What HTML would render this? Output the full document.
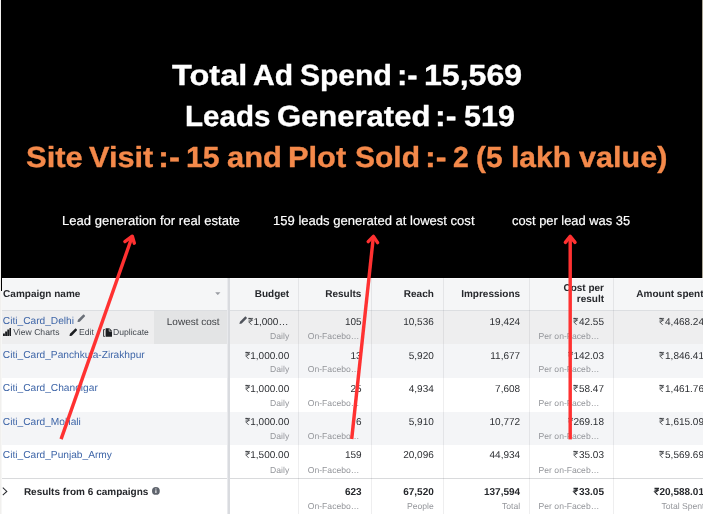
<!DOCTYPE html>
<html><head><meta charset="utf-8">
<style>
html,body{margin:0;padding:0}
body{width:703px;height:514px;position:relative;overflow:hidden;background:#fff;font-family:"Liberation Sans",sans-serif;text-rendering:geometricPrecision}
.a{position:absolute;white-space:nowrap;transform-origin:0 0;line-height:1}
.rp{display:inline-block;width:0.556em;height:0.72em;vertical-align:baseline;overflow:visible;margin-right:0.02em}
.rp path{fill:none;stroke:currentColor;stroke-width:7.6}
.rp.b path{stroke-width:11.5}
</style></head><body>
<div id="L" style="position:absolute;left:0;top:0;width:703px;height:514px;will-change:transform">
<div class="a" style="left:0px;top:0px;width:703px;height:514px;background:#fff;"></div>
<div class="a" style="left:2px;top:278px;width:701px;height:33px;background:#f5f6f7;"></div>
<div class="a" style="left:2px;top:277.6px;width:701px;height:1.2px;background:#fcfcfd;"></div>
<div class="a" style="left:2px;top:310.5px;width:701px;height:33.5px;background:#eeeeef;"></div>
<div class="a" style="left:153.6px;top:310.5px;width:73.4px;height:33.2px;background:#e3e4e5;"></div>
<div class="a" style="left:2px;top:344px;width:701px;height:33.5px;background:#f4f5f7;"></div>
<div class="a" style="left:2px;top:377.5px;width:701px;height:34.1px;background:#ffffff;"></div>
<div class="a" style="left:2px;top:411.6px;width:701px;height:33.1px;background:#f4f5f7;"></div>
<div class="a" style="left:2px;top:444.7px;width:701px;height:33.8px;background:#ffffff;"></div>
<div class="a" style="left:2px;top:478.5px;width:701px;height:36px;background:#ffffff;"></div>
<div class="a" style="left:2px;top:309.7px;width:701px;height:1px;background:#dcdee1;"></div>
<div class="a" style="left:2px;top:477.8px;width:701px;height:1.6px;background:#d9dadc;"></div>
<div class="a" style="left:298.2px;top:278px;width:0.9px;height:236px;background:rgba(0,0,20,0.065);"></div>
<div class="a" style="left:370.8px;top:278px;width:0.9px;height:236px;background:rgba(0,0,20,0.065);"></div>
<div class="a" style="left:443.2px;top:278px;width:0.9px;height:236px;background:rgba(0,0,20,0.065);"></div>
<div class="a" style="left:529.3px;top:278px;width:0.9px;height:236px;background:rgba(0,0,20,0.065);"></div>
<div class="a" style="left:613.2px;top:278px;width:0.9px;height:236px;background:rgba(0,0,20,0.065);"></div>
<div class="a" style="left:226.6px;top:278px;width:1.2px;height:236px;background:#e9eaed;"></div>
<div class="a" style="left:227.7px;top:278px;width:2.2px;height:236px;background:#d9dbdf;"></div>
<div class="a" style="left:1px;top:0px;width:701px;height:277.6px;background:#000;"></div>
<div class="a" style="left:1px;top:277px;width:1.3px;height:14.4px;background:#000;"></div>
<div class="a" style="left:702px;top:0px;width:1px;height:277.6px;background:#aaa596;"></div>
<div class="a" style="left:0px;top:0px;width:1px;height:514px;background:#f1f0ee;"></div>
<div class="a" style="left:1px;top:291.4px;width:1.2px;height:223px;background:#f7f7f6;"></div>
<div class="a" style="top:62.00px;font-size:29px;color:#fff;font-weight:bold;left:171.75px;transform:scaleX(1.1215);-webkit-text-stroke:0.35px currentColor;">Total</div>
<div class="a" style="top:62.00px;font-size:29px;color:#fff;font-weight:bold;left:252.71px;transform:scaleX(1.0373);-webkit-text-stroke:0.35px currentColor;">Ad</div>
<div class="a" style="top:62.00px;font-size:29px;color:#fff;font-weight:bold;left:299.83px;transform:scaleX(1.0352);-webkit-text-stroke:0.35px currentColor;">Spend</div>
<div class="a" style="top:62.00px;font-size:29px;color:#fff;font-weight:bold;left:397.41px;transform:scaleX(1.0643);-webkit-text-stroke:0.35px currentColor;">:-</div>
<div class="a" style="top:62.00px;font-size:29px;color:#fff;font-weight:bold;left:423.99px;transform:scaleX(1.1069);-webkit-text-stroke:0.35px currentColor;">15,569</div>
<div class="a" style="top:103.00px;font-size:29px;color:#fff;font-weight:bold;left:185.23px;transform:scaleX(1.0187);-webkit-text-stroke:0.35px currentColor;">Leads</div>
<div class="a" style="top:103.00px;font-size:29px;color:#fff;font-weight:bold;left:277.43px;transform:scaleX(1.069);-webkit-text-stroke:0.35px currentColor;">Generated</div>
<div class="a" style="top:103.00px;font-size:29px;color:#fff;font-weight:bold;left:435.01px;transform:scaleX(1.1076);-webkit-text-stroke:0.35px currentColor;">:-</div>
<div class="a" style="top:103.00px;font-size:29px;color:#fff;font-weight:bold;left:463.95px;transform:scaleX(1.0519);-webkit-text-stroke:0.35px currentColor;">519</div>
<div class="a" style="top:144.00px;font-size:29px;color:#f4894a;font-weight:bold;left:25.50px;transform:scaleX(1.0678);-webkit-text-stroke:0.35px currentColor;">Site</div>
<div class="a" style="top:144.00px;font-size:29px;color:#f4894a;font-weight:bold;left:88.93px;transform:scaleX(1.0586);-webkit-text-stroke:0.35px currentColor;">Visit</div>
<div class="a" style="top:144.00px;font-size:29px;color:#f4894a;font-weight:bold;left:158.03px;transform:scaleX(1.1386);-webkit-text-stroke:0.35px currentColor;">:-</div>
<div class="a" style="top:144.00px;font-size:29px;color:#f4894a;font-weight:bold;left:185.89px;transform:scaleX(1.0397);-webkit-text-stroke:0.35px currentColor;">15</div>
<div class="a" style="top:144.00px;font-size:29px;color:#f4894a;font-weight:bold;left:226.79px;transform:scaleX(1.0647);-webkit-text-stroke:0.35px currentColor;">and</div>
<div class="a" style="top:144.00px;font-size:29px;color:#f4894a;font-weight:bold;left:288.36px;transform:scaleX(1.0626);-webkit-text-stroke:0.35px currentColor;">Plot</div>
<div class="a" style="top:144.00px;font-size:29px;color:#f4894a;font-weight:bold;left:355.03px;transform:scaleX(1.0338);-webkit-text-stroke:0.35px currentColor;">Sold</div>
<div class="a" style="top:144.00px;font-size:29px;color:#f4894a;font-weight:bold;left:424.69px;transform:scaleX(1.1138);-webkit-text-stroke:0.35px currentColor;">:-</div>
<div class="a" style="top:144.00px;font-size:29px;color:#f4894a;font-weight:bold;left:453.05px;transform:scaleX(0.9776);-webkit-text-stroke:0.35px currentColor;">2</div>
<div class="a" style="top:144.00px;font-size:29px;color:#f4894a;font-weight:bold;left:476.33px;transform:scaleX(1.0313);-webkit-text-stroke:0.35px currentColor;">(5</div>
<div class="a" style="top:144.00px;font-size:29px;color:#f4894a;font-weight:bold;left:511.13px;transform:scaleX(1.034);-webkit-text-stroke:0.35px currentColor;">lakh</div>
<div class="a" style="top:144.00px;font-size:29px;color:#f4894a;font-weight:bold;left:579.21px;transform:scaleX(1.0542);-webkit-text-stroke:0.35px currentColor;">value)</div>
<div class="a" id="s1" style="top:214.00px;font-size:13px;color:#fff;left:61.50px;transform:scaleX(1.004);-webkit-text-stroke:0.18px currentColor;">Lead generation for real estate</div>
<div class="a" id="s2" style="top:214.00px;font-size:13px;color:#fff;left:272.80px;transform:scaleX(1.003);-webkit-text-stroke:0.18px currentColor;">159 leads generated at lowest cost</div>
<div class="a" id="s3" style="top:214.00px;font-size:13px;color:#fff;left:511.60px;transform:scaleX(0.99);-webkit-text-stroke:0.18px currentColor;">cost per lead was 35</div>
<div class="a" id="th0" style="top:290.00px;font-size:10px;color:#26282c;font-weight:bold;left:3.10px;">Campaign name</div>
<div class="a" id="th1" style="top:290.00px;font-size:10px;color:#26282c;font-weight:bold;right:413.80px;">Budget</div>
<div class="a" id="th2" style="top:290.00px;font-size:10px;color:#26282c;font-weight:bold;right:341.70px;">Results</div>
<div class="a" id="th3" style="top:290.00px;font-size:10px;color:#26282c;font-weight:bold;right:269.20px;">Reach</div>
<div class="a" id="th4" style="top:290.00px;font-size:10px;color:#26282c;font-weight:bold;right:182.90px;">Impressions</div>
<div class="a" id="th5a" style="top:284.00px;font-size:10px;color:#26282c;font-weight:bold;right:99.00px;">Cost per</div>
<div class="a" id="th5b" style="top:295.00px;font-size:10px;color:#26282c;font-weight:bold;right:99.00px;">result</div>
<div class="a" id="th6" style="top:290.00px;font-size:10px;color:#26282c;font-weight:bold;left:636.30px;">Amount spent</div>
<svg class="a" style="left:215.4px;top:292.3px" width="5.6" height="3.2" viewBox="0 0 7 4"><path d="M0.2 0.2H6.8L3.5 3.9Z" fill="#9a9da3"/></svg>
<div class="a" id="n0" style="top:317.00px;font-size:10.18px;color:#3f66a8;left:2.80px;">Citi_Card_Delhi</div>
<div class="a" id="b0" style="top:318.00px;font-size:10px;color:#2e3034;right:414.60px;"><svg class="rp" viewBox="0 0 56 72"><path d="M5 4H51M5 21H51M5 4H20C40 4 40 38 20 38H7L37 70" /></svg>1,000…</div>
<div class="a" style="top:332.00px;font-size:8.6px;color:#94969b;right:413.80px;">Daily</div>
<div class="a" id="r0" style="top:318.00px;font-size:10px;color:#2e3034;right:341.40px;">105</div>
<div class="a" id="rs0" style="top:332.00px;font-size:8.6px;color:#94969b;left:307.80px;">On-Facebo…</div>
<div class="a" style="top:318.00px;font-size:10px;color:#2e3034;right:269.20px;">10,536</div>
<div class="a" style="top:318.00px;font-size:10px;color:#2e3034;right:182.90px;">19,424</div>
<div class="a" id="c0" style="top:318.00px;font-size:10px;color:#2e3034;right:99.00px;"><svg class="rp" viewBox="0 0 56 72"><path d="M5 4H51M5 21H51M5 4H20C40 4 40 38 20 38H7L37 70" /></svg>42.55</div>
<div class="a" id="cs0" style="top:332.00px;font-size:8.6px;color:#94969b;left:538.60px;">Per on-Faceb…</div>
<div class="a" id="m0" style="top:318.00px;font-size:10px;color:#2e3034;right:-1.00px;"><svg class="rp" viewBox="0 0 56 72"><path d="M5 4H51M5 21H51M5 4H20C40 4 40 38 20 38H7L37 70" /></svg>4,468.24</div>
<div class="a" id="n1" style="top:351.00px;font-size:10.18px;color:#3f66a8;left:2.80px;">Citi_Card_Panchkula-Zirakhpur</div>
<div class="a" id="b1" style="top:352.00px;font-size:10px;color:#2e3034;right:413.80px;"><svg class="rp" viewBox="0 0 56 72"><path d="M5 4H51M5 21H51M5 4H20C40 4 40 38 20 38H7L37 70" /></svg>1,000.00</div>
<div class="a" style="top:365.00px;font-size:8.6px;color:#94969b;right:413.80px;">Daily</div>
<div class="a" id="r1" style="top:352.00px;font-size:10px;color:#2e3034;right:341.40px;">13</div>
<div class="a" id="rs1" style="top:365.00px;font-size:8.6px;color:#94969b;left:307.80px;">On-Facebo…</div>
<div class="a" style="top:352.00px;font-size:10px;color:#2e3034;right:269.20px;">5,920</div>
<div class="a" style="top:352.00px;font-size:10px;color:#2e3034;right:182.90px;">11,677</div>
<div class="a" id="c1" style="top:352.00px;font-size:10px;color:#2e3034;right:99.00px;"><svg class="rp" viewBox="0 0 56 72"><path d="M5 4H51M5 21H51M5 4H20C40 4 40 38 20 38H7L37 70" /></svg>142.03</div>
<div class="a" id="cs1" style="top:365.00px;font-size:8.6px;color:#94969b;left:538.60px;">Per on-Faceb…</div>
<div class="a" id="m1" style="top:352.00px;font-size:10px;color:#2e3034;right:-1.00px;"><svg class="rp" viewBox="0 0 56 72"><path d="M5 4H51M5 21H51M5 4H20C40 4 40 38 20 38H7L37 70" /></svg>1,846.41</div>
<div class="a" id="n2" style="top:384.00px;font-size:10.18px;color:#3f66a8;left:2.80px;">Citi_Card_Chandigar</div>
<div class="a" id="b2" style="top:385.00px;font-size:10px;color:#2e3034;right:413.80px;"><svg class="rp" viewBox="0 0 56 72"><path d="M5 4H51M5 21H51M5 4H20C40 4 40 38 20 38H7L37 70" /></svg>1,000.00</div>
<div class="a" style="top:399.00px;font-size:8.6px;color:#94969b;right:413.80px;">Daily</div>
<div class="a" id="r2" style="top:385.00px;font-size:10px;color:#2e3034;right:341.40px;">25</div>
<div class="a" id="rs2" style="top:399.00px;font-size:8.6px;color:#94969b;left:307.80px;">On-Facebo…</div>
<div class="a" style="top:385.00px;font-size:10px;color:#2e3034;right:269.20px;">4,934</div>
<div class="a" style="top:385.00px;font-size:10px;color:#2e3034;right:182.90px;">7,608</div>
<div class="a" id="c2" style="top:385.00px;font-size:10px;color:#2e3034;right:99.00px;"><svg class="rp" viewBox="0 0 56 72"><path d="M5 4H51M5 21H51M5 4H20C40 4 40 38 20 38H7L37 70" /></svg>58.47</div>
<div class="a" id="cs2" style="top:399.00px;font-size:8.6px;color:#94969b;left:538.60px;">Per on-Faceb…</div>
<div class="a" id="m2" style="top:385.00px;font-size:10px;color:#2e3034;right:-1.00px;"><svg class="rp" viewBox="0 0 56 72"><path d="M5 4H51M5 21H51M5 4H20C40 4 40 38 20 38H7L37 70" /></svg>1,461.76</div>
<div class="a" id="n3" style="top:418.00px;font-size:10.18px;color:#3f66a8;left:2.80px;">Citi_Card_Mohali</div>
<div class="a" id="b3" style="top:418.00px;font-size:10px;color:#2e3034;right:413.80px;"><svg class="rp" viewBox="0 0 56 72"><path d="M5 4H51M5 21H51M5 4H20C40 4 40 38 20 38H7L37 70" /></svg>1,000.00</div>
<div class="a" style="top:432.00px;font-size:8.6px;color:#94969b;right:413.80px;">Daily</div>
<div class="a" id="r3" style="top:418.00px;font-size:10px;color:#2e3034;right:341.40px;">6</div>
<div class="a" id="rs3" style="top:432.00px;font-size:8.6px;color:#94969b;left:307.80px;">On-Facebo…</div>
<div class="a" style="top:418.00px;font-size:10px;color:#2e3034;right:269.20px;">5,910</div>
<div class="a" style="top:418.00px;font-size:10px;color:#2e3034;right:182.90px;">10,772</div>
<div class="a" id="c3" style="top:418.00px;font-size:10px;color:#2e3034;right:99.00px;"><svg class="rp" viewBox="0 0 56 72"><path d="M5 4H51M5 21H51M5 4H20C40 4 40 38 20 38H7L37 70" /></svg>269.18</div>
<div class="a" id="cs3" style="top:432.00px;font-size:8.6px;color:#94969b;left:538.60px;">Per on-Faceb…</div>
<div class="a" id="m3" style="top:418.00px;font-size:10px;color:#2e3034;right:-1.00px;"><svg class="rp" viewBox="0 0 56 72"><path d="M5 4H51M5 21H51M5 4H20C40 4 40 38 20 38H7L37 70" /></svg>1,615.09</div>
<div class="a" id="n4" style="top:451.00px;font-size:10.18px;color:#3f66a8;left:2.80px;">Citi_Card_Punjab_Army</div>
<div class="a" id="b4" style="top:451.00px;font-size:10px;color:#2e3034;right:413.80px;"><svg class="rp" viewBox="0 0 56 72"><path d="M5 4H51M5 21H51M5 4H20C40 4 40 38 20 38H7L37 70" /></svg>1,500.00</div>
<div class="a" style="top:466.00px;font-size:8.6px;color:#94969b;right:413.80px;">Daily</div>
<div class="a" id="r4" style="top:451.00px;font-size:10px;color:#2e3034;right:341.40px;">159</div>
<div class="a" id="rs4" style="top:466.00px;font-size:8.6px;color:#94969b;left:307.80px;">On-Facebo…</div>
<div class="a" style="top:451.00px;font-size:10px;color:#2e3034;right:269.20px;">20,096</div>
<div class="a" style="top:451.00px;font-size:10px;color:#2e3034;right:182.90px;">44,934</div>
<div class="a" id="c4" style="top:451.00px;font-size:10px;color:#2e3034;right:99.00px;"><svg class="rp" viewBox="0 0 56 72"><path d="M5 4H51M5 21H51M5 4H20C40 4 40 38 20 38H7L37 70" /></svg>35.03</div>
<div class="a" id="cs4" style="top:466.00px;font-size:8.6px;color:#94969b;left:538.60px;">Per on-Faceb…</div>
<div class="a" id="m4" style="top:451.00px;font-size:10px;color:#2e3034;right:-1.00px;"><svg class="rp" viewBox="0 0 56 72"><path d="M5 4H51M5 21H51M5 4H20C40 4 40 38 20 38H7L37 70" /></svg>5,569.69</div>
<div class="a" id="lc" style="top:318.00px;font-size:10px;color:#3a3c40;left:166.80px;">Lowest cost</div>
<div class="a" id="vc" style="top:328.00px;font-size:8.6px;color:#444950;left:13.30px;">View Charts</div>
<div class="a" id="ed" style="top:328.00px;font-size:8.6px;color:#444950;left:79.00px;">Edit</div>
<div class="a" id="du" style="top:328.00px;font-size:8.6px;color:#444950;left:113.00px;">Duplicate</div>
<svg class="a" style="left:77.2px;top:313.8px" width="8.6" height="8.6" viewBox="0 0 8 8"><path d="M0.4 7.6L0.9 5.4L5.6 0.7C5.9 0.4 6.3 0.4 6.6 0.7L7.3 1.4C7.6 1.7 7.6 2.1 7.3 2.4L2.6 7.1Z" fill="#6a6f78"/></svg>
<svg class="a" style="left:68.8px;top:327.9px" width="8.6" height="8.6" viewBox="0 0 8 8"><path d="M0.4 7.6L0.9 5.4L5.6 0.7C5.9 0.4 6.3 0.4 6.6 0.7L7.3 1.4C7.6 1.7 7.6 2.1 7.3 2.4L2.6 7.1Z" fill="#1c1e21"/></svg>
<svg class="a" style="left:238.8px;top:316.1px" width="8.4" height="8.4" viewBox="0 0 8 8"><path d="M0.4 7.6L0.9 5.4L5.6 0.7C5.9 0.4 6.3 0.4 6.6 0.7L7.3 1.4C7.6 1.7 7.6 2.1 7.3 2.4L2.6 7.1Z" fill="#50545c"/></svg>
<svg class="a" style="left:3.1px;top:328.2px" width="8.4" height="8" viewBox="0 0 8.4 8"><path d="M0 5.4h1.9V8H0zM2.15 3.6h1.9V8H2.15zM4.3 1.6h1.9V8H4.3zM6.5 0h1.9V8H6.5z" fill="#1c1e21"/></svg>
<svg class="a" style="left:102.6px;top:327.6px" width="9.4" height="9" viewBox="0 0 9.4 9"><path d="M2.6 0.2H6.4L9.2 3V8.8H2.6Z" fill="#1c1e21"/><path d="M1.8 1.6H0.6V8.4H1.8" fill="none" stroke="#1c1e21" stroke-width="0.9"/><path d="M6.2 0.6V3.2H8.8" fill="none" stroke="#fff" stroke-width="0.6"/></svg>
<svg class="a" style="left:2.4px;top:487.4px" width="6" height="9" viewBox="0 0 6 9"><path d="M0.8 0.7L4.8 4.4L0.8 8.1" fill="none" stroke="#2a2c30" stroke-width="1.05"/></svg>
<div class="a" id="f0" style="top:488.00px;font-size:10px;color:#26282c;font-weight:bold;left:23.90px;">Results from 6 campaigns</div>
<svg class="a" style="left:152.4px;top:487.4px" width="7.8" height="7.8" viewBox="0 0 8 8"><circle cx="4" cy="4" r="4" fill="#5f646d"/><path d="M4 3.4V6.2M4 1.6V2.6" stroke="#fff" stroke-width="1.1"/></svg>
<div class="a" style="top:488.00px;font-size:10px;color:#26282c;font-weight:bold;right:341.40px;">623</div>
<div class="a" style="top:502.00px;font-size:8.6px;color:#94969b;left:307.80px;">On-Facebo…</div>
<div class="a" style="top:488.00px;font-size:10px;color:#26282c;font-weight:bold;right:269.20px;">67,520</div>
<div class="a" style="top:502.00px;font-size:8.6px;color:#94969b;right:269.20px;">People</div>
<div class="a" style="top:488.00px;font-size:10px;color:#26282c;font-weight:bold;right:182.90px;">137,594</div>
<div class="a" style="top:502.00px;font-size:8.6px;color:#94969b;right:182.90px;">Total</div>
<div class="a" id="fc" style="top:488.00px;font-size:10px;color:#26282c;font-weight:bold;right:99.00px;"><svg class="rp b" viewBox="0 0 56 72"><path d="M5 4H51M5 21H51M5 4H20C40 4 40 38 20 38H7L37 70" /></svg>33.05</div>
<div class="a" style="top:502.00px;font-size:8.6px;color:#94969b;left:538.60px;">Per on-Faceb…</div>
<div class="a" id="fm" style="top:488.00px;font-size:10px;color:#26282c;font-weight:bold;right:-1.00px;"><svg class="rp b" viewBox="0 0 56 72"><path d="M5 4H51M5 21H51M5 4H20C40 4 40 38 20 38H7L37 70" /></svg>20,588.01</div>
<div class="a" style="top:502.00px;font-size:8.6px;color:#94969b;right:-1.50px;">Total Spent</div>
<svg class="a" style="left:0;top:0" width="703" height="514" viewBox="0 0 703 514">
<path d="M61.1 439.1L132.3 236.2" stroke="#ff3131" stroke-width="3.45" fill="none" stroke-linecap="butt"/>
<path d="M124.9 241.6L132.3 236.2L134.3 243.2" stroke="#ff3131" stroke-width="3.45" fill="none" stroke-linecap="round" stroke-linejoin="round"/>
<path d="M351.7 439.0L373.4 236.4" stroke="#ff3131" stroke-width="3.45" fill="none" stroke-linecap="butt"/>
<path d="M368.2 241.6L373.4 236.4L377.6 242.6" stroke="#ff3131" stroke-width="3.45" fill="none" stroke-linecap="round" stroke-linejoin="round"/>
<path d="M570.2 439.4L570.2 236.4" stroke="#ff3131" stroke-width="3.45" fill="none" stroke-linecap="butt"/>
<path d="M565.4 242.4L570.2 236.4L575 242.4" stroke="#ff3131" stroke-width="3.45" fill="none" stroke-linecap="round" stroke-linejoin="round"/>
</svg>
</div>
</body></html>
